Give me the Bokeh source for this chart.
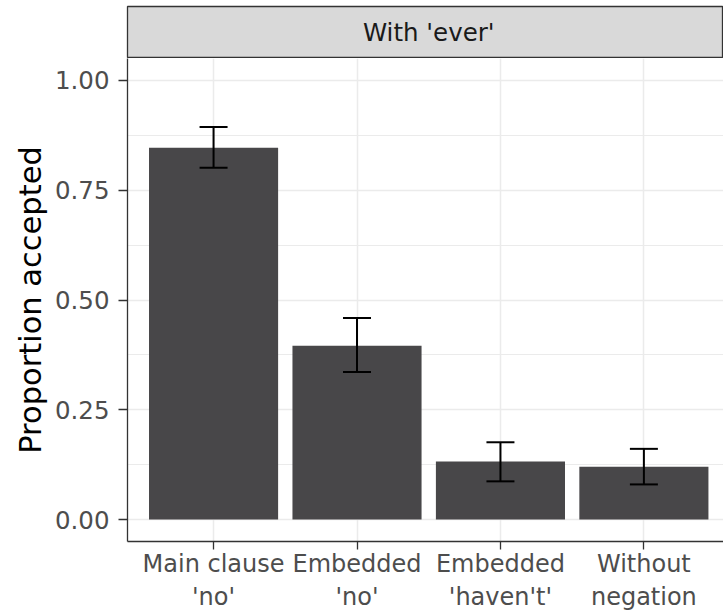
from bokeh.plotting import figure
from bokeh.layouts import column
from bokeh.models import Range1d, FixedTicker, Whisker, TeeHead, ColumnDataSource
from bokeh.core.properties import value
from bokeh.embed import file_html
from bokeh.resources import INLINE

# ---- data ----
categories = ["Main clause\n'no'", "Embedded\n'no'", "Embedded\n'haven't'", "Without\nnegation"]
proportion = [0.847, 0.396, 0.132, 0.120]
ci_lower = [0.801, 0.336, 0.087, 0.080]
ci_upper = [0.894, 0.459, 0.176, 0.161]
y_ticks = [0.0, 0.25, 0.50, 0.75, 1.0]
y_tick_labels = ["0.00", "0.25", "0.50", "0.75", "1.00"]
facet_label = "With 'ever'"
y_title = "Proportion accepted"

FONT = "DejaVu Sans"
xs = [i + 1 for i in range(len(categories))]
src = ColumnDataSource(dict(x=xs, top=proportion, lower=ci_lower, upper=ci_upper))

x_range = Range1d(0.4, 4.555)

# ---- facet strip ----
strip = figure(width=723, height=58, x_range=x_range, y_range=Range1d(0, 1),
               x_axis_type=None, y_axis_type=None,
               output_backend="svg", toolbar_location=None,
               min_border_left=127, min_border_right=0, min_border_top=6, min_border_bottom=0)
strip.background_fill_color = "#D9D9D9"
strip.border_fill_color = "white"
strip.outline_line_color = "#333333"
strip.outline_line_width = 1.3
strip.grid.visible = False
strip.text(x=[(xs[0] + xs[-1]) / 2], y=[0.5], text=[facet_label],
           text_font=value(FONT), text_font_size="24.5px", text_color="#1A1A1A",
           text_align="center", text_baseline="middle")

# ---- main panel ----
p = figure(width=723, height=557, x_range=x_range, y_range=Range1d(-0.05, 1.05),
           output_backend="svg", toolbar_location=None,
           min_border_left=127, min_border_right=0, min_border_top=0, min_border_bottom=74)
p.outline_line_color = None
p.background_fill_color = "white"
p.border_fill_color = "white"

p.vbar(x="x", top="top", bottom=0, width=0.9, source=src,
       fill_color="#484749", line_color=None)

wh = Whisker(base="x", lower="lower", upper="upper", source=src,
             line_color="black", line_width=2, level="annotation",
             upper_head=TeeHead(size=28, line_color="black", line_width=2),
             lower_head=TeeHead(size=28, line_color="black", line_width=2))
p.add_layout(wh)

# axes
p.xaxis.ticker = FixedTicker(ticks=xs)
p.xaxis.major_label_overrides = {float(x): c for x, c in zip(xs, categories)}
p.yaxis.ticker = FixedTicker(ticks=y_ticks)
p.yaxis.major_label_overrides = {float(t): l for t, l in zip(y_ticks, y_tick_labels)}

for ax in (p.xaxis, p.yaxis):
    ax.axis_line_color = "#333333"
    ax.axis_line_width = 1.3
    ax.major_tick_line_color = "#333333"
    ax.major_tick_line_width = 1.3
    ax.major_tick_out = 9
    ax.major_tick_in = 0
    ax.minor_tick_line_color = None
    ax.major_label_text_font = FONT
    ax.major_label_text_font_size = "24.5px"
    ax.major_label_text_color = "#4D4D4D"

p.xaxis.major_tick_out = 8
p.xaxis.major_label_text_font_size = "24px"
p.xaxis.major_label_standoff = 0
p.yaxis.major_label_standoff = 9
p.yaxis.axis_label = y_title
p.yaxis.axis_label_text_font = FONT
p.yaxis.axis_label_text_font_size = "30.5px"
p.yaxis.axis_label_text_font_style = "normal"
p.yaxis.axis_label_text_color = "black"
p.yaxis.axis_label_standoff = 4

# grid
p.xgrid.grid_line_color = "#EBEBEB"
p.xgrid.grid_line_width = 1.5
minor = [(a + b) / 2 for a, b in zip(y_ticks[:-1], y_ticks[1:])]
p.ygrid.ticker = FixedTicker(ticks=y_ticks, minor_ticks=minor)
p.ygrid.grid_line_color = "#EBEBEB"
p.ygrid.grid_line_width = 1.5
p.ygrid.minor_grid_line_color = "#EBEBEB"
p.ygrid.minor_grid_line_width = 1.0

layout = column(strip, p, spacing=0)
open("out.html", "w").write(file_html(layout, INLINE))
